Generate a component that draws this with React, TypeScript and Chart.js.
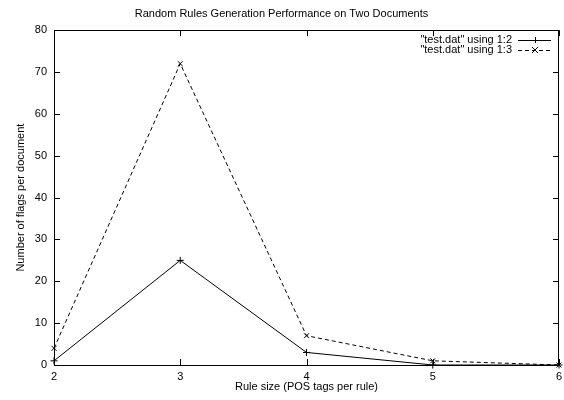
import React, { useEffect, useRef } from "react";
import { Chart, registerables } from "chart.js";

Chart.register(...registerables);

const xValues = [2, 3, 4, 5, 6];
const series12 = [1, 25, 3, 0, 0];
const series13 = [4, 72, 7, 1, 0];
const seriesLabels = ['"test.dat" using 1:2', '"test.dat" using 1:3'];
const titleText = "Random Rules Generation Performance on Two Documents";
const xTitle = "Rule size (POS tags per rule)";
const yTitle = "Number of flags per document";

const FONT = "'Liberation Sans', Arial, Helvetica, sans-serif";

const framePlugin = {
  id: "gnuframe",
  afterDraw(chart: any) {
    const { ctx, chartArea: a, scales } = chart;
    const xs = scales.x;
    const ys = scales.y;
    ctx.save();
    ctx.strokeStyle = "#000";
    ctx.lineWidth = 1;
    ctx.setLineDash([]);
    ctx.strokeRect(Math.round(a.left) + 0.5, Math.round(a.top) + 0.5, Math.round(a.right - a.left) - 1, Math.round(a.bottom - a.top));
    const L = 6;
    ctx.beginPath();
    xs.ticks.forEach((t: any) => {
      const px = Math.round(xs.getPixelForValue(t.value)) + 0.5;
      ctx.moveTo(px, a.bottom);
      ctx.lineTo(px, a.bottom - L);
      ctx.moveTo(px, a.top);
      ctx.lineTo(px, a.top + L);
    });
    ys.ticks.forEach((t: any) => {
      const py = Math.round(ys.getPixelForValue(t.value)) + 0.5;
      ctx.moveTo(a.left, py);
      ctx.lineTo(a.left + L, py);
      ctx.moveTo(a.right, py);
      ctx.lineTo(a.right - L, py);
    });
    ctx.stroke();

    // legend inside top-right
    ctx.font = `11px ${FONT}`;
    ctx.fillStyle = "#000";
    ctx.textAlign = "right";
    ctx.textBaseline = "middle";
    const textRight = 512;
    const lx0 = 518;
    const lx1 = 551;
    const rows = [40, 50];
    chart.data.datasets.forEach((ds: any, i: number) => {
      const y = rows[i];
      ctx.fillText(ds.label, textRight, y);
      ctx.beginPath();
      ctx.setLineDash(ds.borderDash || []);
      ctx.moveTo(lx0, y + 0.5);
      ctx.lineTo(lx1, y + 0.5);
      ctx.stroke();
      ctx.setLineDash([]);
      const mx = Math.round((lx0 + lx1) / 2);
      const r = 3;
      ctx.beginPath();
      if (ds.pointStyle === "cross") {
        ctx.moveTo(mx - r, y + 0.5);
        ctx.lineTo(mx + r, y + 0.5);
        ctx.moveTo(mx + 0.5, y - r);
        ctx.lineTo(mx + 0.5, y + r);
      } else {
        ctx.moveTo(mx - r, y - r);
        ctx.lineTo(mx + r, y + r);
        ctx.moveTo(mx - r, y + r);
        ctx.lineTo(mx + r, y - r);
      }
      ctx.stroke();
    });
    ctx.restore();
  },
};

export default function App() {
  const ref = useRef<HTMLCanvasElement>(null);
  useEffect(() => {
    document.body.style.margin = "0";
    const chart = new Chart(ref.current!, {
      type: "line",
      data: {
        datasets: [
          {
            label: seriesLabels[0],
            data: xValues.map((x, i) => ({ x, y: series12[i] })),
            borderColor: "#000",
            borderWidth: 1,
            pointStyle: "cross",
            pointRadius: 3.5,
            pointBorderColor: "#000",
            pointBorderWidth: 1,
            fill: false,
            tension: 0,
            clip: false,
          },
          {
            label: seriesLabels[1],
            data: xValues.map((x, i) => ({ x, y: series13[i] })),
            borderColor: "#000",
            borderWidth: 1,
            borderDash: [4, 3],
            pointStyle: "crossRot",
            pointRadius: 3.5,
            pointBorderColor: "#000",
            pointBorderWidth: 1,
            fill: false,
            tension: 0,
            clip: false,
          },
        ],
      },
      options: {
        animation: false,
        responsive: false,
        maintainAspectRatio: false,
        layout: { padding: { left: 0, right: 1, top: 0, bottom: 0 } },
        plugins: {
          legend: { display: false },
          tooltip: { enabled: false },
          title: {
            display: true,
            text: titleText,
            color: "#000",
            font: { family: FONT, size: 11, weight: "normal" },
            padding: { top: 7, bottom: 10 },
          },
        },
        scales: {
          x: {
            type: "linear",
            min: 2,
            max: 6,
            grid: { display: false, drawTicks: false },
            border: { display: false },
            ticks: {
              stepSize: 1,
              color: "#000",
              font: { family: FONT, size: 11 },
              padding: 5,
              maxRotation: 0,
              align: "center",
            },
            title: {
              display: true,
              text: xTitle,
              color: "#000",
              font: { family: FONT, size: 11 },
              padding: { top: 2, bottom: 6 },
            },
            afterFit: (s: any) => {
              s.height = 35;
              s.paddingLeft = 0;
              s.paddingRight = 0;
            },
          },
          y: {
            min: 0,
            max: 80,
            grid: { display: false, drawTicks: false },
            border: { display: false },
            ticks: {
              stepSize: 10,
              color: "#000",
              font: { family: FONT, size: 11 },
              padding: 7,
            },
            title: {
              display: true,
              text: yTitle,
              color: "#000",
              font: { family: FONT, size: 11 },
              padding: { top: 14, bottom: 0 },
            },
            afterFit: (s: any) => {
              s.width = 54;
            },
          },
        },
      },
      plugins: [framePlugin],
    });
    return () => chart.destroy();
  }, []);
  return (
    <div style={{ position: "absolute", left: 0, top: 0, width: 564, height: 400, background: "#fff" }}>
      <canvas ref={ref} width={564} height={400} />
    </div>
  );
}
